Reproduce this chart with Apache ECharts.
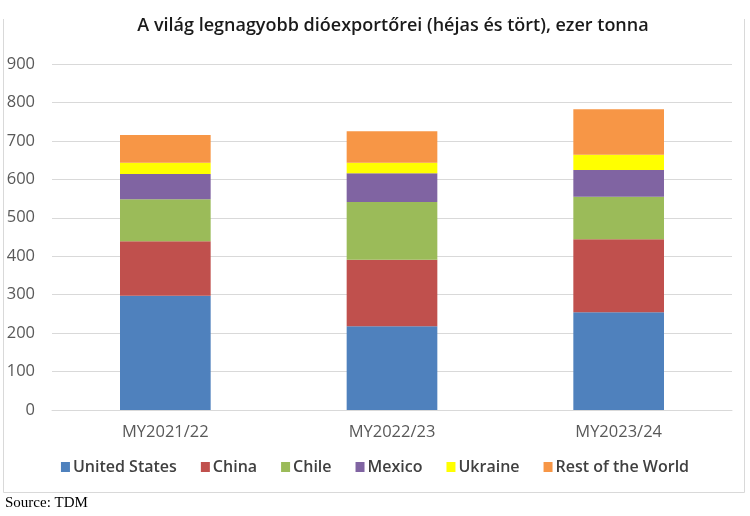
<!DOCTYPE html>
<html>
<head>
<meta charset="utf-8">
<script src="https://cdn.jsdelivr.net/npm/echarts@6/dist/echarts.min.js"></script>
<style>
html, body { margin: 0; padding: 0; background: #fff; }
#chart { width: 750px; height: 516px; }
</style>
</head>
<body>
<div id="chart"></div>
<script>
// adatok (ezer tonna)
var years = ['MY2021/22', 'MY2022/23', 'MY2023/24'];
var unitedStates = [297, 218, 254];
var china = [142, 173, 190];
var chile = [109, 150, 111];
var mexico = [66, 75, 69];
var ukraine = [29, 27, 40];
var restOfWorld = [72, 82, 118];
var yTicks = [0, 900, 100];

var names = ['United States', 'China', 'Chile', 'Mexico', 'Ukraine', 'Rest of the World'];
var colors = ['#4f81bd', '#c0504d', '#9bbb59', '#8064a2', '#ffff00', '#f79646'];
var values = [unitedStates, china, chile, mexico, ukraine, restOfWorld];

var myChart = echarts.init(document.getElementById('chart'));

var series = [];
for (var i = 0; i < names.length; i++) {
  series.push({
    name: names[i],
    type: 'bar',
    stack: 'total',
    barWidth: '40%',
    itemStyle: { color: colors[i] },
    data: values[i]
  });
}

myChart.setOption({
  animation: false,
  title: {
    text: 'A világ legnagyobb dióexportőrei (héjas és tört), ezer tonna',
    left: 388,
    textAlign: 'center',
    top: 12,
    textStyle: { fontFamily: 'Open Sans', fontSize: 18, fontWeight: 600, color: '#1a1a1a' }
  },
  legend: {
    data: names,
    bottom: 36,
    left: 'center',
    itemWidth: 9,
    itemHeight: 10,
    itemGap: 24,
    icon: 'rect',
    textStyle: { fontFamily: 'Open Sans', fontSize: 16, fontWeight: 600, color: '#404040', padding: [0, 0, 0, -2] }
  },
  grid: { left: 52, right: 18, top: 64, bottom: 106 },
  xAxis: {
    type: 'category',
    data: years,
    axisLine: { lineStyle: { color: '#d9d9d9' } },
    axisTick: { show: false },
    axisLabel: { fontFamily: 'Open Sans', fontSize: 16.5, color: '#595959', margin: 14 }
  },
  yAxis: {
    type: 'value',
    min: yTicks[0],
    max: yTicks[1],
    interval: yTicks[2],
    axisLine: { show: false },
    axisTick: { show: false },
    splitLine: { lineStyle: { color: '#d9d9d9' } },
    axisLabel: { fontFamily: 'Open Sans', fontSize: 16.5, color: '#595959', margin: 17 }
  },
  graphic: [
    { type: 'polyline', shape: { points: [[3.5, 19], [3.5, 492.5], [744.5, 492.5], [744.5, 19]] },
      style: { stroke: '#d9d9d9', fill: null, lineWidth: 1 } },
    { type: 'text', left: 5, top: 496,
      style: { text: 'Source: TDM', font: '15px "Liberation Serif"', fill: '#000' } }
  ],
  series: series
});
</script>
</body>
</html>
